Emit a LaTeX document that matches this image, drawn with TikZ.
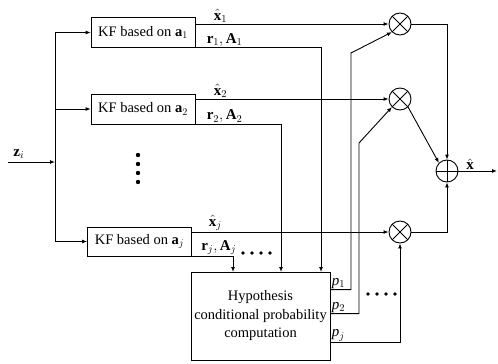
\RequirePackage{fix-cm}
\documentclass[tikz,border=0pt]{standalone}
\usepackage{fontspec}
\setmainfont{Liberation Serif}
\usetikzlibrary{positioning, arrows.meta}

\begin{document}
\begin{tikzpicture}[x=1pt, y=-1pt, line width=0.9pt,
  >={Latex[length=5pt, width=4pt]},
  kfbox/.style={draw, line width=0.7pt, minimum width=104pt, minimum height=30pt,
                inner sep=1pt, font=\fontsize{14.5}{16}\selectfont},
  mult/.style={draw, circle, minimum size=22pt, inner sep=0pt, path picture={
      \draw (path picture bounding box.north west) -- (path picture bounding box.south east);
      \draw (path picture bounding box.south west) -- (path picture bounding box.north east);}},
  summ/.style={draw, circle, minimum size=22pt, inner sep=0pt, path picture={
      \draw (path picture bounding box.north) -- (path picture bounding box.south);
      \draw (path picture bounding box.west) -- (path picture bounding box.east);}},
  lbl/.style={inner sep=1pt, font=\fontsize{15}{17}\selectfont}]
  \useasboundingbox (0,0) rectangle (498,364);

  % Filter bank
  \node[kfbox] (kf1) at (143,32.5) {KF based on $\mathbf{a}_1$};
  \node[kfbox] (kf2) at (143,109) {KF based on $\mathbf{a}_2$};
  \node[kfbox, minimum height=29pt] (kfj) at (139.5,241.5) {KF based on $\mathbf{a}_j$};
  \node[draw, line width=0.7pt, minimum width=137pt, minimum height=88pt, align=center,
        font=\fontsize{14.5}{18.5}\selectfont] (hyp) at (260.5,316)
        {Hypothesis\\conditional probability\\computation};

  % Multipliers and sum
  \node[mult] (m1) at (400,24) {};
  \node[mult] (m2) at (400,99) {};
  \node[mult] (m3) at (400,232) {};
  \node[summ] (sum) at (447,171) {};

  % Input bus
  \coordinate (zin) at (8,162);
  \coordinate (bus) at (55,0);
  \draw[->] (zin) node[lbl, above right=2pt and 4pt] (zlbl) {$\mathbf{z}_i$} -- (zin -| bus);
  \draw[->] (kf1.west -| bus) -- (kf1.west);
  \draw[->] (kf2.west -| bus) -- (kf2.west);
  \draw[->] (kf1.west -| bus) -- (kfj.west -| bus) -- (kfj.west);
  \foreach \y in {155,164,173,182}{
    \fill (138,\y) circle (2.2pt);
  }

  % Estimates to multipliers
  \draw[->] (kf1.east |- m1) -- node[lbl, pos=0.13, above] (xh1) {$\hat{\mathbf{x}}_1$} (m1.west);
  \draw[->] (kf2.east |- m2) -- node[lbl, pos=0.13, above] (xh2) {$\hat{\mathbf{x}}_2$} (m2.west);
  \draw[->] (kfj.east |- m3) -- node[lbl, pos=0.12, above] (xhj) {$\hat{\mathbf{x}}_j$} (m3.west);

  % Residuals to hypothesis block
  \coordinate (d1) at (321,272);
  \coordinate (d2) at (281,272);
  \coordinate (dj) at (233,272);
  \draw[->] (kf1.south east) -| (d1);
  \draw[->] (kf2.south east) -| (d2);
  \draw[->] (kfj.south east) -| (dj);
  \node[lbl, above right=0pt and 10pt of kf1.south east] (r1) {$\mathbf{r}_1,\mathbf{A}_1$};
  \node[lbl, above right=0pt and 10pt of kf2.south east] (r2) {$\mathbf{r}_2,\mathbf{A}_2$};
  \node[lbl, above right=0pt and 8pt of kfj.south east] (rj) {$\mathbf{r}_j,\mathbf{A}_j$};
  \foreach \x in {243,252,261,270}{
    \fill (\x,253) circle (1.8pt);
  }

  % Probabilities to multipliers
  \draw[->] ([yshift=-18pt]hyp.north east) node[lbl, above right] (p1) {$\mathit{p}_1$}
    -| (351,53) -- (m1.south west);
  \draw[->] ([yshift=-42pt]hyp.north east) node[lbl, above right] (p2) {$\mathit{p}_2$}
    -| (359,143) -- (m2.south west);
  \draw[->] ([yshift=-71pt]hyp.north east) node[lbl, above right] (pj) {$\mathit{p}_j$}
    -| (m3.south);
  \foreach \x in {368,377,386,395}{
    \fill (\x,294) circle (1.8pt);
  }

  % Weighted sum
  \draw[->] (m1.east) -| (sum.north);
  \draw[->] (m2.south east) -- (sum.north west);
  \draw[->] (m3.east) -| (sum.south);
  \coordinate (xout) at (497,171);
  \draw[->] (sum.east) -- node[lbl, pos=0.3, above] (xh) {$\hat{\mathbf{x}}$} (xout);
\end{tikzpicture}
\end{document}
